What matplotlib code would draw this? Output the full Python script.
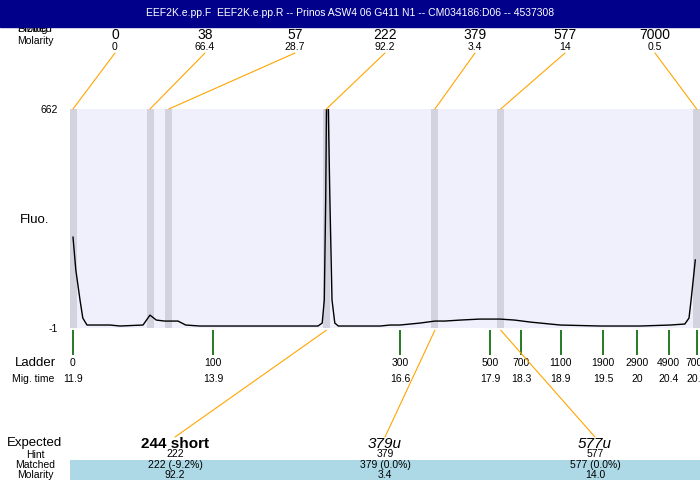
import matplotlib
matplotlib.use('Agg')
import matplotlib.pyplot as plt
from matplotlib.patches import ConnectionPatch, Rectangle

plt.rcParams['font.family'] = ['Liberation Sans', 'DejaVu Sans']
plt.rcParams['axes.unicode_minus'] = False

title = "EEF2K.e.pp.F  EEF2K.e.pp.R -- Prinos ASW4 06 G411 N1 -- CM034186:D06 -- 4537308"

# fluorescence trace: migration time vs fluo
trace_time = [11.90, 11.94, 12.00, 12.04, 12.10, 12.43, 12.57, 12.90, 13.00, 13.09,
              13.21, 13.40, 13.51, 13.71, 14.29, 14.86, 15.40, 15.46, 15.49, 15.51,
              15.53, 15.55, 15.57, 15.60, 15.64, 15.69, 16.00, 16.29, 16.43, 16.57,
              16.86, 17.07, 17.21, 17.43, 17.71, 18.00, 18.21, 18.43, 18.86, 19.43,
              20.00, 20.43, 20.64, 20.70, 20.73, 20.76, 20.79]
trace_fluo = [274, 175, 84, 29, 8, 8, 5, 8, 38, 23,
              20, 20, 8, 5, 5, 5, 5, 14, 84, 387,
              900, 629, 387, 84, 14, 5, 5, 5, 8, 8,
              14, 20, 20, 23, 26, 26, 23, 17, 8, 5,
              5, 8, 11, 29, 84, 144, 205]

ymin, ymax = -1, 662

# sized peaks (top rows)
peak_size = [0, 38, 57, 222, 379, 577, 7000]
peak_time = [11.9, 13.0, 13.27, 15.52, 17.07, 18.01, 20.81]
peak_molarity = ['0', '66.4', '28.7', '92.2', '3.4', '14', '0.5']

# ladder
ladder_size = [0, 100, 300, 500, 700, 1100, 1900, 2900, 4900, 7000]
ladder_time = [11.9, 13.9, 16.57, 17.86, 18.3, 18.87, 19.47, 19.96, 20.41, 20.81]

# expected products
expected_label = ['244 short', '379u', '577u']
expected_weight = ['bold', 'normal', 'normal']
expected_style = ['normal', 'italic', 'italic']
expected_peak = [222, 379, 577]
hint = ['222', '379', '577']
matched = ['222 (-9.2%)', '379 (0.0%)', '577 (0.0%)']
matched_molarity = ['92.2', '3.4', '14.0']

fig = plt.figure(figsize=(7, 4.8), dpi=100)

# main trace axes (pixel box 70..700 x 109..328)
ax = fig.add_axes([70/700, (480-328)/480, 630/700, 219/480])
ax.set_facecolor('#F0F0FC')
for s in ax.spines.values():
    s.set_visible(False)
x0 = 11.9 - 3/70
ax.set_xlim(x0, x0 + 9)
ax.set_ylim(ymin, ymax)
ax.set_xticks([])
ax.set_yticks([ymin, ymax])
ax.tick_params(axis='y', length=0, pad=9, labelsize=7.5)
for t in peak_time:
    ax.axvspan(t - 0.05, t + 0.05, color='#D3D3E0', lw=0)
ax.plot(trace_time, trace_fluo, color='black', lw=1.0)

xa = ax.get_xaxis_transform()
ax.vlines(ladder_time, -0.01, -0.123, transform=xa, color='#006400', lw=1.2, clip_on=False)
for sz, t in zip(ladder_size, ladder_time):
    ax.text(t, -0.16, str(sz), transform=xa, ha='center', va='center', fontsize=7.5)
    ax.text(t, -0.233, f"{round(t, 1):g}", transform=xa, ha='center', va='center', fontsize=7.5)

# overlay in pixel coordinates for labels
ov = fig.add_axes([0, 0, 1, 1])
ov.set_xlim(0, 700)
ov.set_ylim(480, 0)
ov.axis('off')
ov.patch.set_visible(False)

ov.text(17, 29, 'Sizing', ha='left', va='center', fontsize=8)
ov.text(17, 29, 'Plotted', ha='left', va='center', fontsize=8)
ov.add_patch(Rectangle((0, 0), 700, 27, color='#00008B', zorder=5))
ov.text(350, 12.5, title, color='white', ha='center', va='center', fontsize=7.5, zorder=6)
ov.text(17, 41, 'Molarity', ha='left', va='center', fontsize=7.5)

for i, (sz, t, m) in enumerate(zip(peak_size, peak_time, peak_molarity)):
    lx = 115 + 90 * i
    ov.text(lx, 35, str(sz), ha='center', va='center', fontsize=10)
    ov.text(lx, 47, m, ha='center', va='center', fontsize=7.5)
    fig.add_artist(ConnectionPatch(xyA=(lx, 53), coordsA=ov.transData,
                                   xyB=(t, 1.0), coordsB=xa,
                                   color='orange', lw=0.8))

ov.text(35, 220, 'Fluo.', ha='center', va='center', fontsize=9.5)
ov.text(35, 363, 'Ladder', ha='center', va='center', fontsize=9.5)
ov.text(33, 379, 'Mig. time', ha='center', va='center', fontsize=7.5)

ov.add_patch(Rectangle((70, 460), 630, 20, color='#ADD8E6', lw=0))
ov.text(35, 443, 'Expected', ha='center', va='center', fontsize=9.5)
ov.text(35, 455, 'Hint', ha='center', va='center', fontsize=7.5)
ov.text(35, 465, 'Matched', ha='center', va='center', fontsize=7.5)
ov.text(35, 475, 'Molarity', ha='center', va='center', fontsize=7.5)

for i in range(len(expected_label)):
    lx = 175 + 210 * i
    t = peak_time[peak_size.index(expected_peak[i])]
    ov.text(lx, 444, expected_label[i], ha='center', va='center', fontsize=11,
            fontweight=expected_weight[i], fontstyle=expected_style[i])
    ov.text(lx, 454, hint[i], ha='center', va='center', fontsize=7.5)
    ov.text(lx, 465, matched[i], ha='center', va='center', fontsize=7.5)
    ov.text(lx, 475, matched_molarity[i], ha='center', va='center', fontsize=7.5)
    fig.add_artist(ConnectionPatch(xyA=(t, -0.01), coordsA=xa,
                                   xyB=(lx, 437), coordsB=ov.transData,
                                   color='orange', lw=0.8))

fig.savefig('out.png', dpi=100)
